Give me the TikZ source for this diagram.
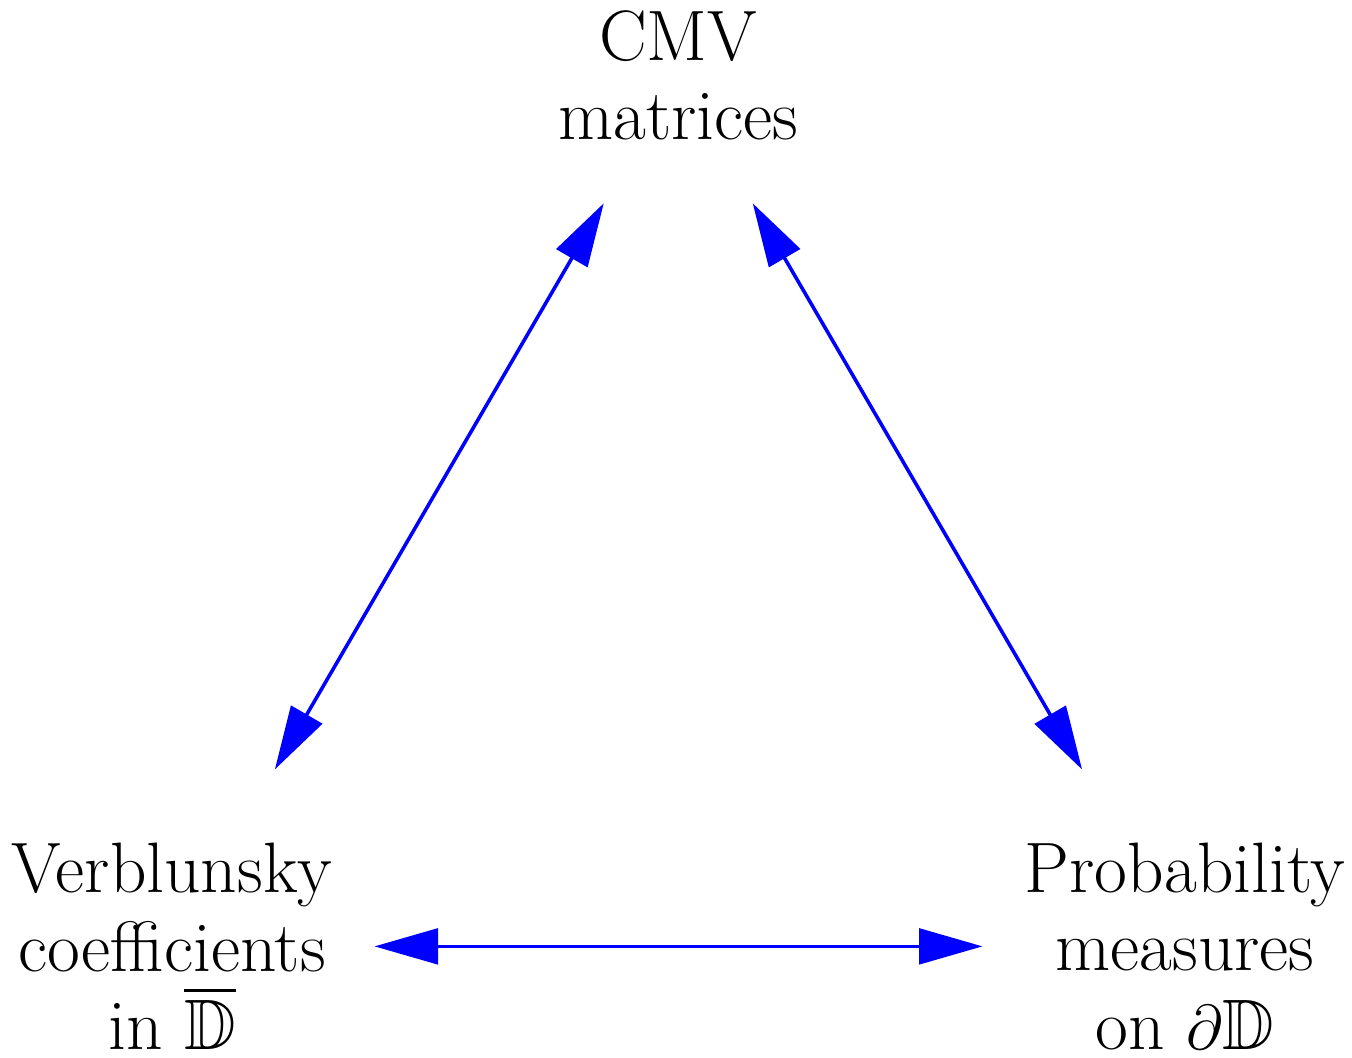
\documentclass[tikz,border=0pt]{standalone}
\usepackage{amsmath, amssymb}
\usepackage{xcolor}
\usepackage{tikz}
\usetikzlibrary{calc, arrows.meta, positioning}

\begin{document}
\begin{tikzpicture}[>={Triangle[length=25pt, width=14pt]}, line join=round,
    nhan/.style={align=center, font=\fontsize{28.1}{30.9}\selectfont, inner sep=0pt},
    muiten/.style={<->, blue, line width=1.4pt}]
    % Khung hình
    \useasboundingbox (0,0) rectangle (18.70,14.62);
    
    % Các nút chữ
    \node[nhan] (cmv) at (9.38,13.58) {CMV\\matrices};
    \node[nhan] (ver) at (2.38,1.53) {Verblunsky\\coefficients\\in $\overline{\mathbb{D}}$};
    \node[nhan] (prob) at (16.39,1.53) {Probability\\measures\\on $\partial\mathbb{D}$};
    
    % Các mũi tên hai chiều
    \draw[muiten, shorten <=2.83cm, shorten >=2.05cm] (ver.center) -- (cmv.center);
    \draw[muiten, shorten <=2.83cm, shorten >=2.05cm] (prob.center) -- (cmv.center);
    \draw[muiten, shorten <=2.8cm, shorten >=2.8cm] (ver.center) -- (prob.center);
    
\end{tikzpicture}
\end{document}
